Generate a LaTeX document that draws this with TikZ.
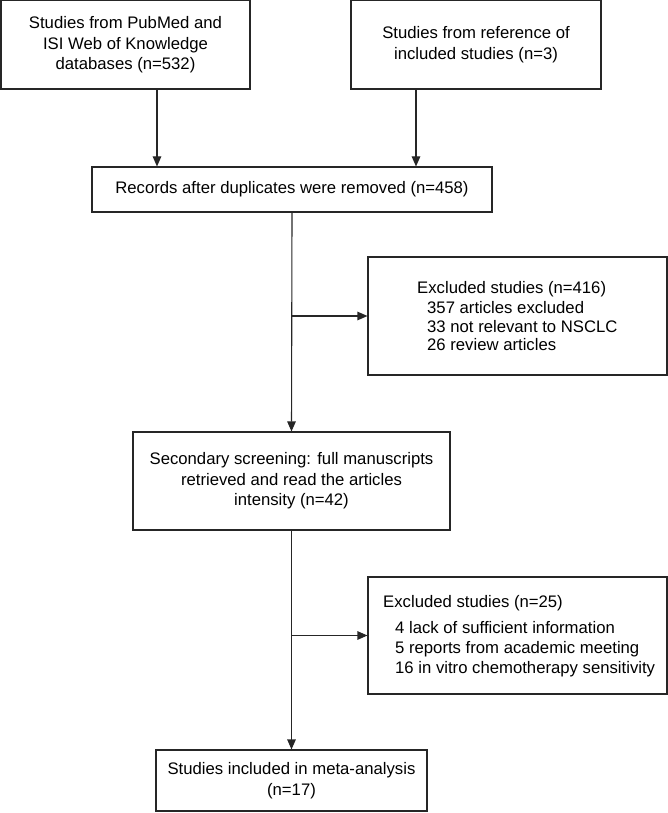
\documentclass[tikz,border=0pt]{standalone}
\usepackage{fontspec}
\setmainfont{Liberation Sans}
\usetikzlibrary{arrows.meta}
\begin{document}
\begin{tikzpicture}[x=1pt,y=-1pt,
  box/.style={draw=black!85, line width=1.1pt, inner sep=0pt, align=center, font=\fontsize{16.7}{20.5}\selectfont},
  txt/.style={anchor=base west, inner sep=0pt, font=\fontsize{16.7}{20.5}\selectfont},
  arr/.style={draw=black!85, line width=1.1pt, -{Triangle[length=10pt,width=8.5pt]}}]
\useasboundingbox (0,0) rectangle (668,813);
\node[box, minimum width=249, minimum height=88.5] (b1) at (125.5,44.75) {Studies from PubMed and\\ISI Web of Knowledge\\databases (n=532)};
\node[box, minimum width=250, minimum height=88.5] (b2) at (476,44.75) {Studies from reference of\\included studies (n=3)};
\node[box, minimum width=400, minimum height=45] (b3) at (292,189.5) {Records after duplicates were removed (n=458)};
\node[box, minimum width=299, minimum height=118] (ex1) at (517.5,316) {};
\node[box, minimum width=317, minimum height=98] (b4) at (291.5,481) {Secondary screening: full manuscripts\\retrieved and read the articles\\intensity (n=42)};
\node[box, minimum width=299, minimum height=117] (ex2) at (517.5,635.5) {};
\node[box, minimum width=271, minimum height=61] (b5) at (291.5,780.5) {Studies included in meta-analysis\\(n=17)};
\node[txt] (ex1t) at (417,293) {Excluded studies (n=416)};
\node[txt] (ex1a) at (427,313) {357 articles excluded};
\node[txt] (ex1b) at (427,332) {33 not relevant to NSCLC};
\node[txt] (ex1c) at (427,350) {26 review articles};
\node[txt] (ex2t) at (383,607) {Excluded studies (n=25)};
\node[txt] (ex2a) at (395,633) {4 lack of sufficient information};
\node[txt] (ex2b) at (395,653) {5 reports from academic meeting};
\node[txt] (ex2c) at (395,673) {16 in vitro chemotherapy sensitivity};
\coordinate (c1) at (157,0);
\coordinate (c2) at (416,0);
\draw[arr] (b1.south -| c1) -- (b3.north -| c1);
\draw[arr] (b2.south -| c2) -- (b3.north -| c2);
\draw[arr] (b3.south) -- (b4.north);
\draw[arr] (b3.south |- ex1.west) -- (ex1.west);
\draw[arr] (b4.south) -- (b5.north);
\draw[arr] (b4.south |- ex2.west) -- (ex2.west);
\end{tikzpicture}
\end{document}
